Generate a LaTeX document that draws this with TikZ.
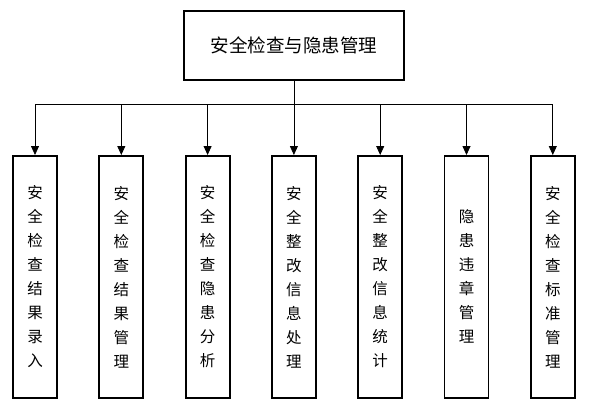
\documentclass[tikz,border=0pt]{standalone}
\usepackage{fontspec}
\newfontfamily\cjk{Noto Sans CJK SC}
\usetikzlibrary{arrows.meta,positioning}
\tikzset{
  topbox/.style={draw=black, line width=1.8pt, minimum width=220pt, minimum height=69pt, inner sep=0pt, font=\cjk\fontsize{18.5}{20}\selectfont},
  subbox/.style={draw=black, line width=1.8pt, minimum width=44pt, minimum height=242pt, inner sep=0pt, align=center, anchor=north, font=\cjk\fontsize{15.5}{24}\selectfont},
  farr/.style={-{Triangle[length=9pt,width=8pt]}, line width=0.8pt},
  fline/.style={line width=0.8pt}
}
\begin{document}
\begin{tikzpicture}[x=1pt,y=1pt]
\useasboundingbox (0,0) rectangle (591,-410);
\node[topbox] (top) at (294,-45.5) {安全检查与隐患管理};
\coordinate (bus) at (0,-104);
\node[subbox] (b1) at (35,-155) {安\\全\\检\\查\\结\\果\\录\\入};
\node[subbox, right=40.5pt of b1.north east, anchor=north west] (b2) {安\\全\\检\\查\\结\\果\\管\\理};
\node[subbox, right=40.5pt of b2.north east, anchor=north west] (b3) {安\\全\\检\\查\\隐\\患\\分\\析};
\node[subbox, right=40.5pt of b3.north east, anchor=north west] (b4) {安\\全\\整\\改\\信\\息\\处\\理};
\node[subbox, right=40.5pt of b4.north east, anchor=north west] (b5) {安\\全\\整\\改\\信\\息\\统\\计};
\node[subbox, right=40.5pt of b5.north east, anchor=north west] (b6) {隐\\患\\违\\章\\管\\理};
\node[subbox, right=40.5pt of b6.north east, anchor=north west] (b7) {安\\全\\检\\查\\标\\准\\管\\理};
\draw[fline] (top.south) -- (top.south |- bus);
\draw[fline] (b1.north |- bus) -- (b7.north |- bus);
\foreach \i in {1,...,7}
  \draw[farr] (b\i.north |- bus) -- (b\i.north);
\end{tikzpicture}
\end{document}
